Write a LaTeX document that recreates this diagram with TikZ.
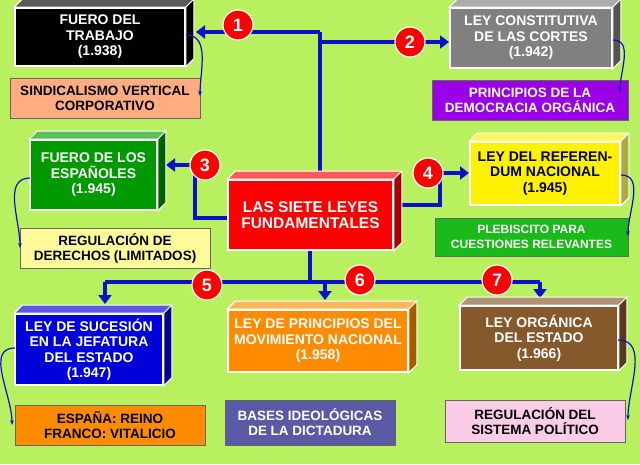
\documentclass[tikz,border=0pt]{standalone}
\usepackage{fontspec}
\setmainfont{Liberation Sans}
\usetikzlibrary{arrows.meta,calc}
\definecolor{bg}{HTML}{B8F060}
\definecolor{ln}{HTML}{1010CC}
\definecolor{purp}{HTML}{9A00E6}
\tikzset{
 cube/.style={draw=white,line width=1.6pt,align=center,font=\bfseries\fontsize{14}{15.5}\selectfont,inner sep=1pt},
 note/.style={draw=black!60,line width=0.6pt,align=center,font=\bfseries\fontsize{13.5}{15}\selectfont,inner sep=1pt},
 num/.style={circle,fill=red,draw=white,line width=1.2pt,minimum size=30pt,inner sep=0pt,text=white,font=\bfseries\fontsize{18}{18}\selectfont},
 bl/.style={draw=ln,line width=3.5pt,-{Triangle[length=9pt,width=13pt]}},
 bl0/.style={draw=ln,line width=3.5pt},
 thin/.style={draw=ln,line width=1.2pt,-{Stealth[length=5pt]}}
}
\newcommand{\mkcube}[8]{%
 \node[cube,fill=#6,text=#8,minimum width=#4pt-#2pt,minimum height=#5pt-#3pt] (#1) at ({(#2+#4)/2},{(#3+#5)/2}) {#7};
 \fill[#6!65!white,draw=white,line width=1pt] (#1.north west) -- ++(8,-8) -- ($(#1.north east)+(8,-8)$) -- (#1.north east) -- cycle;
 \fill[#6!65!black,draw=white,line width=1pt] (#1.north east) -- ++(8,-8) -- ($(#1.south east)+(8,-8)$) -- (#1.south east) -- cycle;
}
\newcommand{\mknote}[8]{%
 \node[note,fill=#6,text=#8,minimum width=#4pt-#2pt,minimum height=#5pt-#3pt] (#1) at ({(#2+#4)/2},{(#3+#5)/2}) {#7};
}
\begin{document}
\begin{tikzpicture}[x=1pt,y=-1pt]
\fill[bg] (0,0) rectangle (640,464);
\useasboundingbox (0,0) rectangle (640,464);
% notes
\mknote{n1}{10}{78}{200}{118}{orange!70!red!50!white}{SINDICALISMO VERTICAL\\CORPORATIVO}{black}
\mknote{n2}{432}{80}{628}{120}{purp}{PRINCIPIOS DE LA\\DEMOCRACIA ORGÁNICA}{white}
\mknote{n3}{20}{228}{210}{268}{yellow!40!white}{REGULACIÓN DE\\DERECHOS (LIMITADOS)}{black}
\mknote{n4}{435}{218}{628}{256}{green!70!black!90!white}{\fontsize{12}{14}\selectfont PLEBISCITO PARA\\\fontsize{12}{14}\selectfont CUESTIONES RELEVANTES}{white}
\mknote{n5}{15}{405}{205}{445}{orange!90!yellow}{ESPAÑA: REINO\\FRANCO: VITALICIO}{black}
\mknote{n6}{225}{400}{395}{445}{blue!30!gray}{BASES IDEOLÓGICAS\\DE LA DICTADURA}{white}
\mknote{n7}{445}{400}{625}{442}{magenta!20!white}{REGULACIÓN DEL\\SISTEMA POLÍTICO}{black}
% connectors (behind boxes)
\draw[bl0] (320,185) -- (320,32);
\draw[bl] (320,32) -- (196,32);
\draw[bl] (320,42) -- (449,42);
\draw[bl] (235,218) -- (195,218) -- (195,165) -- (166,165);
\draw[bl] (390,205) -- (440,205) -- (440,173) -- (469,173);
\draw[bl0] (310,250) -- (310,282);
\draw[bl0] (105,282) -- (540,282);
\draw[bl] (105,282) -- (105,304);
\draw[bl] (325,282) -- (325,300);
\draw[bl] (540,282) -- (540,298);
% cubes
\mkcube{c1}{15}{8}{185}{66}{black}{FUERO DEL\\TRABAJO\\(1.938)}{white}
\mkcube{c2}{450}{8}{612}{68}{gray}{LEY CONSTITUTIVA\\DE LAS CORTES\\(1.942)}{white}
\mkcube{c3}{30}{140}{157}{210}{green!60!black}{FUERO DE LOS\\ESPAÑOLES\\(1.945)}{white}
\mkcube{c0}{228}{180}{393}{250}{red}{\fontsize{15.5}{19}\selectfont LAS SIETE LEYES\\\fontsize{15.5}{19}\selectfont FUNDAMENTALES}{white}
\mkcube{c4}{470}{142}{620}{205}{yellow}{LEY DEL REFEREN-\\DUM NACIONAL\\(1.945)}{black}
\mkcube{c5}{15}{314}{163}{385}{blue!85!black}{LEY DE SUCESIÓN\\EN LA JEFATURA\\DEL ESTADO\\(1.947)}{white}
\mkcube{c6}{228}{310}{408}{372}{orange!90!yellow}{LEY DE PRINCIPIOS DEL\\MOVIMIENTO NACIONAL\\(1.958)}{white}
\mkcube{c7}{460}{306}{618}{370}{brown!70!black}{LEY ORGÁNICA\\DEL ESTADO\\(1.966)}{white}
% thin curved
\draw[thin] (186,35) to[out=0,in=90] (200,96);
\draw[thin] (613,40) to[out=0,in=90] (620,92);
\draw[thin] (30,178) to[out=180,in=90] (20,248);
\draw[thin] (621,175) to[out=0,in=90] (628,236);
\draw[thin] (15,348) to[out=180,in=90] (12,425);
\draw[thin] (618,340) to[out=0,in=90] (628,420);
% numbers
\node[num] (k1) at (238,25) {1};
\node[num] (k2) at (410,42) {2};
\node[num] (k3) at (205,165) {3};
\node[num] (k4) at (428,173) {4};
\node[num] (k5) at (207,285) {5};
\node[num] (k6) at (360,280) {6};
\node[num] (k7) at (497,280) {7};
\end{tikzpicture}
\end{document}
